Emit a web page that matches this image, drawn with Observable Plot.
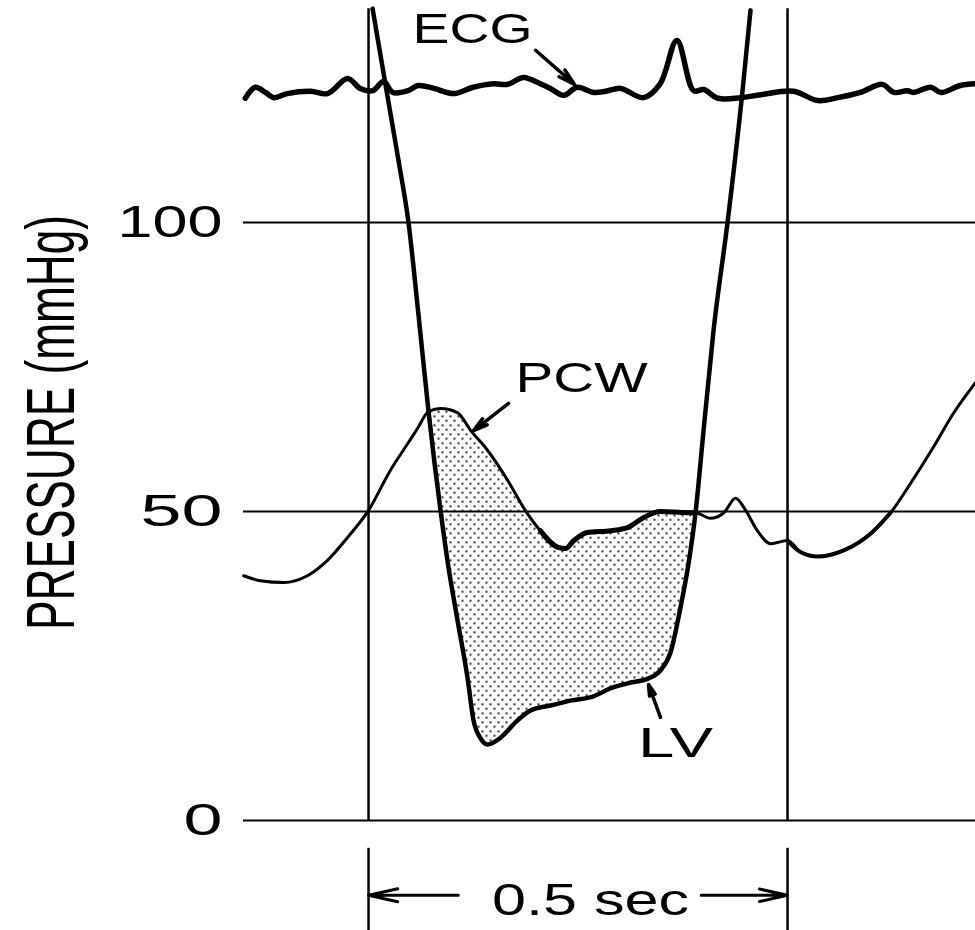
<!DOCTYPE html>
<html>
<head>
<meta charset="utf-8">
<script src="https://cdn.jsdelivr.net/npm/d3@7"></script>
<script src="https://cdn.jsdelivr.net/npm/@observablehq/plot@0.6"></script>
<style>
  html, body { margin: 0; padding: 0; background: #fff; }
  #chart svg { display: block; }
</style>
</head>
<body>
<div id="chart"></div>
<script>
// Time in seconds relative to the first vertical marker; pressure in mmHg.
const ecgTime = [-0.147, -0.135, -0.123, -0.113, -0.097, -0.069, -0.049, -0.025, -0.010, 0.005, 0.018, 0.029, 0.047, 0.059, 0.078, 0.101, 0.125, 0.149, 0.166, 0.185, 0.205, 0.217, 0.233, 0.249, 0.269, 0.283, 0.301, 0.328, 0.348, 0.368, 0.388, 0.400, 0.417, 0.444, 0.468, 0.507, 0.536, 0.560, 0.587, 0.613, 0.627, 0.643, 0.650, 0.671, 0.683, 0.706, 0.724];
const ecgLevel = [121.5, 123.4, 122.5, 121.6, 122.3, 122.7, 122.3, 124.9, 123.2, 122.8, 124.4, 122.5, 122.8, 123.7, 123.2, 122.3, 123.4, 124.0, 123.9, 125.1, 124.0, 123.2, 122.0, 123.4, 122.5, 122.7, 123.2, 121.6, 124.0, 131.5, 122.8, 123.0, 121.5, 121.6, 122.1, 122.7, 121.1, 121.6, 122.5, 123.9, 122.5, 122.8, 122.5, 123.4, 122.5, 123.7, 124.0];

const pcwTime = [-0.149, -0.129, -0.101, -0.073, -0.049, -0.025, 0.0, 0.026, 0.047, 0.059, 0.0716, 0.086, 0.106, 0.122, 0.142, 0.166, 0.187, 0.205, 0.226, 0.235, 0.245, 0.261, 0.289, 0.309, 0.328, 0.348, 0.381, 0.3902, 0.408, 0.424, 0.438, 0.450, 0.464, 0.480, 0.500, 0.516, 0.536, 0.567, 0.599, 0.623, 0.647, 0.674, 0.698, 0.7243];
const pcwPressure = [39.6, 38.8, 38.5, 39.6, 42.1, 45.8, 50.2, 57.1, 61.8, 64.5, 67.3, 67.8, 67.1, 64.0, 60.6, 55.4, 50.2, 46.9, 44.2, 44.0, 45.3, 46.6, 46.9, 47.4, 49.0, 50.0, 49.8, 49.8, 48.9, 49.8, 52.3, 50.2, 46.9, 44.8, 45.3, 43.4, 42.7, 43.7, 46.4, 49.8, 54.9, 61.1, 67.0, 72.3];

const lvTime = [0.0048, 0.0215, 0.0358, 0.0477, 0.0597, 0.0716, 0.0859, 0.0955, 0.1062, 0.1181, 0.1253, 0.1337, 0.1420, 0.1575, 0.1778, 0.1933, 0.2172, 0.2411, 0.2685, 0.2888, 0.3091, 0.3341, 0.3484, 0.3604, 0.3723, 0.3819, 0.3902, 0.3998, 0.4117, 0.4284, 0.4463, 0.4558];
const lvPressure = [137.0, 122.8, 110.7, 100.0, 83.9, 67.3, 50.2, 40.9, 32.4, 23.1, 16.2, 13.3, 12.3, 13.4, 16.2, 17.8, 18.6, 19.4, 20.1, 21.4, 22.2, 23.0, 24.3, 27.2, 34.5, 41.6, 49.8, 64.0, 81.3, 100.0, 122.8, 136.7];

const yTicks = [0, 50, 100];
const markerTimes = [0, 0.5];
const curveNames = ["ECG", "PCW", "LV"];
const scaleText = "0.5 sec";
const yTitle = "PRESSURE (mmHg)";

// Build tables
const ecg = ecgTime.map((t, i) => ({t, v: ecgLevel[i]}));
const pcw = pcwTime.map((t, i) => ({t, v: pcwPressure[i]}));
const lv = lvTime.map((t, i) => ({t, v: lvPressure[i]}));

// Shaded region: where PCW lies above LV (between the two crossings)
const tA = 0.0716, tB = 0.3902, eps = 1e-9;
const inGap = d => d.t >= tA - eps && d.t <= tB + eps;
const shade = [...pcw.filter(inGap), ...lv.filter(inGap).reverse()];
const pcwHeavy = pcw.filter(d => d.t >= 0.205 - eps && d.t <= tB + eps);
const pcwMid = pcw.filter(d => d.t >= 0.5 - eps && d.t <= 0.623 + eps);

// Annotations
const nameLabels = [
  {text: curveNames[0], t: 0.1241, v: 131.0},
  {text: curveNames[1], t: 0.2542, v: 70.6},
  {text: curveNames[2], t: 0.3663, v: 10.2}
];
const pointers = [
  {t1: 0.1993, v1: 129.8, t2: 0.2458, v2: 123.9},
  {t1: 0.1671, v1: 68.7, t2: 0.1253, v2: 64.0},
  {t1: 0.3484, v1: 16.7, t2: 0.3341, v2: 22.0}
];
const barArrows = [
  {t1: 0.107, t2: 0, v: -12.1},
  {t1: 0.397, t2: 0.5, v: -12.1}
];

const chart = Plot.plot({
  width: 975,
  height: 930,
  marginLeft: 243,
  marginRight: 0,
  marginTop: 0,
  marginBottom: 0,
  style: {fontFamily: "'Liberation Sans', Arial, sans-serif", background: "#fff", color: "#000", overflow: "visible"},
  x: {type: "linear", domain: [-0.1492, 0.7243], axis: null},
  y: {type: "linear", domain: [0, 50, 100], range: [820, 511, 222], label: null},
  marks: [
    Plot.ruleY(yTicks, {stroke: "#000", strokeWidth: 2}),
    Plot.ruleX(markerTimes, {y1: 0, y2: 137, stroke: "#000", strokeWidth: 2.5}),
    Plot.line(shade, {x: "t", y: "v", fill: "url(#stipple)", stroke: "none"}),
    Plot.line(pcw, {x: "t", y: "v", curve: "monotone-x", stroke: "#000", strokeWidth: 3}),
    Plot.line(pcwHeavy, {x: "t", y: "v", curve: "monotone-x", stroke: "#000", strokeWidth: 5}),
    Plot.line(pcwMid, {x: "t", y: "v", curve: "monotone-x", stroke: "#000", strokeWidth: 4}),
    Plot.line(lv, {x: "t", y: "v", curve: "monotone-x", stroke: "#000", strokeWidth: 4.5}),
    Plot.line(ecg, {x: "t", y: "v", curve: "catmull-rom", stroke: "#000", strokeWidth: 5.5}),
    Plot.axisY({ticks: yTicks, tickSize: 0, tickPadding: 21, fontSize: 45, label: null, tickFormat: d => String(d)}),
    Plot.text(nameLabels, {x: "t", y: "v", text: "text", fontSize: 42, lineAnchor: "bottom", textAnchor: "middle", fill: "#000"}),
    Plot.arrow(pointers, {x1: "t1", y1: "v1", x2: "t2", y2: "v2", stroke: "#000", strokeWidth: 3.5, headLength: 15, headAngle: 30}),
    // time scale bar
    Plot.ruleX(markerTimes, {y1: -4.5, y2: -17.8, stroke: "#000", strokeWidth: 2.5}),
    Plot.arrow(barArrows, {x1: "t1", y1: "v", x2: "t2", y2: "v", stroke: "#000", strokeWidth: 3, headLength: 16, headAngle: 25}),
    Plot.text([scaleText], {x: 0.2649, y: -15.37, text: d => d, fontSize: 45, lineAnchor: "bottom", textAnchor: "middle", fill: "#000"}),
    // y-axis title
    Plot.text([yTitle], {x: -0.352, y: 65.4, text: d => d, rotate: -90, fontSize: 68, lineAnchor: "bottom", textAnchor: "middle", fill: "#000"})
  ]
});

// Stipple pattern for the shaded area
const svg = d3.select(chart);
const defs = svg.insert("defs", ":first-child");
const pat = defs.append("pattern").attr("id", "stipple").attr("width", 8).attr("height", 9).attr("patternUnits", "userSpaceOnUse");
pat.append("rect").attr("x", 1).attr("y", 1).attr("width", 2).attr("height", 1.6).attr("fill", "#000");
pat.append("rect").attr("x", 5).attr("y", 5.5).attr("width", 2).attr("height", 1.6).attr("fill", "#000");

// Match the wide lettering of the original
const widths = {"ECG": 120, "PCW": 132, "LV": 75, "0.5 sec": 197, "100": 105, "50": 82, "0": 39, "PRESSURE (mmHg)": 415};
svg.selectAll("text").each(function () {
  const w = widths[this.textContent];
  if (w) {
    this.setAttribute("textLength", w);
    this.setAttribute("lengthAdjust", "spacingAndGlyphs");
  }
});

document.getElementById("chart").appendChild(chart);
</script>
</body>
</html>
